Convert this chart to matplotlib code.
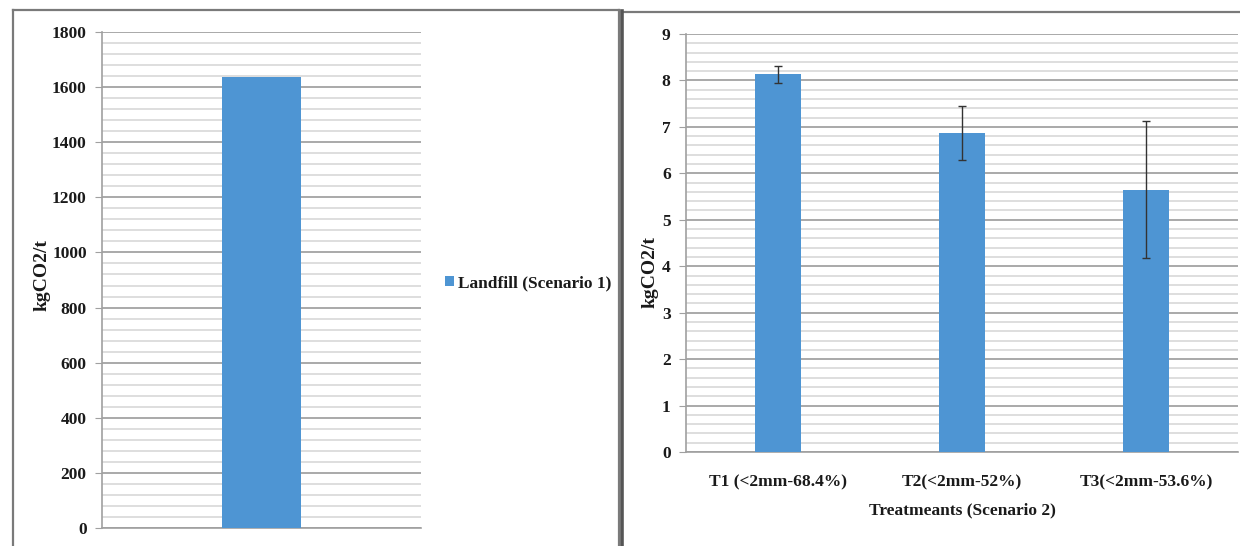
import matplotlib
matplotlib.use("Agg")
import matplotlib.pyplot as plt
from matplotlib.lines import Line2D
from matplotlib.ticker import MultipleLocator

# Scenario 1: landfill emissions
landfill_labels = ["Landfill (Scenario 1)"]
landfill_values = [1635]

# Scenario 2: treatments with standard deviations
treatments = ["T1 (<2mm-68.4%)", "T2(<2mm-52%)", "T3(<2mm-53.6%)"]
treatment_values = [8.13, 6.87, 5.65]
treatment_errors = [0.18, 0.59, 1.47]

ylabel = "kgCO2/t"
xlabel_right = "Treatmeants (Scenario 2)"

BAR = "#4E95D3"
TXT = "#1a1a1a"
MAJ = "#a2a2a2"
MIN = "#d4d4d4"

plt.rcParams["font.family"] = ["Liberation Serif", "DejaVu Serif"]
plt.rcParams["font.weight"] = "bold"

W, H = 1240, 546
fig = plt.figure(figsize=(W / 100, H / 100), dpi=100)
fig.patch.set_facecolor("white")


def fx(x):
    return x / W


def fy(y):
    return 1 - y / H


def style_axes(ax, major, minor, xpad):
    ax.yaxis.set_major_locator(MultipleLocator(major))
    ax.yaxis.set_minor_locator(MultipleLocator(minor))
    ax.grid(which="major", axis="y", color=MAJ, lw=1.3, zorder=0)
    ax.grid(which="minor", axis="y", color=MIN, lw=1.1, zorder=0)
    ax.set_axisbelow(True)
    for s in ("top", "right"):
        ax.spines[s].set_visible(False)
    ax.spines["left"].set_color("#a0a0a0")
    ax.spines["bottom"].set_color("#a0a0a0")
    ax.spines["left"].set_linewidth(1.2)
    ax.spines["bottom"].set_linewidth(1.2)
    ax.tick_params(axis="y", which="major", length=5, color="#a0a0a0",
                   labelsize=12.5, labelcolor=TXT, pad=6)
    ax.tick_params(axis="y", which="minor", length=0)
    ax.tick_params(axis="x", length=0, labelsize=12.5, labelcolor=TXT,
                   pad=xpad)
    for lab in ax.get_yticklabels() + ax.get_xticklabels():
        lab.set_fontweight("bold")


# Left chart
axL = fig.add_axes([fx(102), fy(528), fx(421) - fx(102), fy(32) - fy(528)])
bars = axL.bar([0], landfill_values, width=0.25, color=BAR, zorder=3,
               label=landfill_labels[0])
axL.set_xlim(-0.5, 0.5)
axL.set_ylim(0, 1800)
axL.set_xticks([])
style_axes(axL, 200, 40, 9)
fig.text(fx(42), fy(275), ylabel, rotation=90, ha="center", va="center",
         fontsize=14, fontweight="bold", color=TXT)
fig.legend(handles=[bars], loc="center left",
           bbox_to_anchor=(fx(436), fy(283)), frameon=False,
           handlelength=0.55, handleheight=0.55, handletextpad=0.2,
           borderpad=0, prop={"size": 12.5, "weight": "bold"},
           labelcolor=TXT)

# Right chart
axR = fig.add_axes([fx(686), fy(452), fx(1238) - fx(686), fy(34) - fy(452)])
xpos = list(range(len(treatments)))
axR.bar(xpos, treatment_values, width=0.25, color=BAR, zorder=3)
axR.errorbar(xpos, treatment_values, yerr=treatment_errors, fmt="none",
             ecolor="#333333", elinewidth=1.0, capsize=3, capthick=1.0, zorder=4)
axR.set_xlim(-0.5, len(treatments) - 0.5)
axR.set_ylim(0, 9)
axR.set_xticks(xpos)
axR.set_xticklabels(treatments)
style_axes(axR, 1, 0.2, 16)
axR.set_xlabel(xlabel_right, fontsize=12.5, fontweight="bold", color=TXT,
               labelpad=9)
fig.text(fx(650), fy(272), ylabel, rotation=90, ha="center", va="center",
         fontsize=14, fontweight="bold", color=TXT)

# Panel frames
frame = dict(transform=fig.transFigure, color="#7a7a7a", lw=1.6)
fig.add_artist(Line2D([fx(13), fx(13)], [fy(10), fy(560)], **frame))
fig.add_artist(Line2D([fx(13), fx(619)], [fy(10), fy(10)], **frame))
fig.add_artist(Line2D([fx(618.5), fx(618.5)], [fy(10), fy(560)], **frame))
fig.add_artist(Line2D([fx(622), fx(1245)], [fy(12), fy(12)], **frame))
fig.add_artist(Line2D([fx(622), fx(622)], [fy(11), fy(560)],
                      transform=fig.transFigure, color="#555555", lw=2.6))

fig.savefig("out.png", dpi=100)
